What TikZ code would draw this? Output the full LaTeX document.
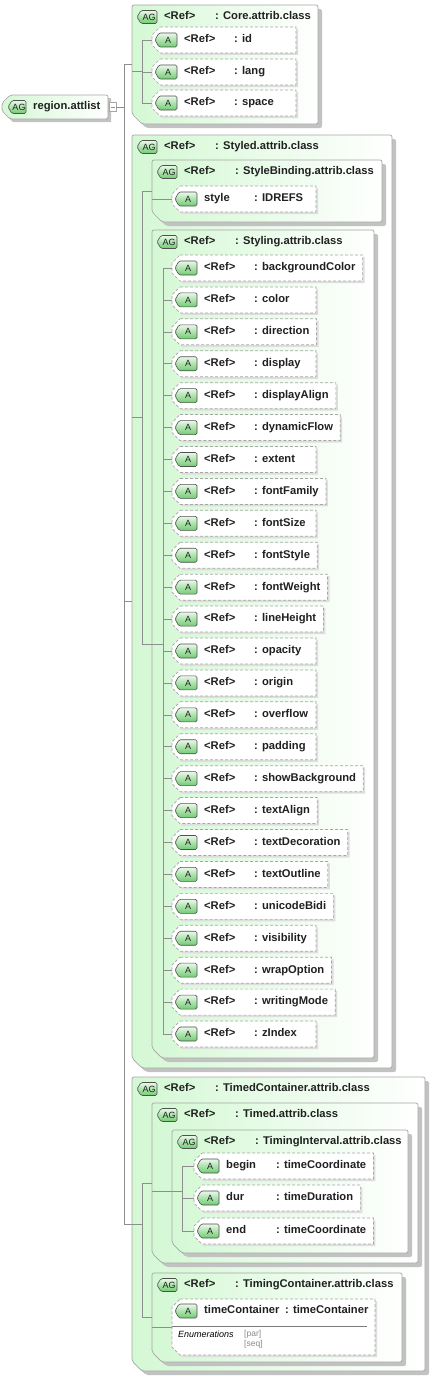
\documentclass[tikz,border=0pt]{standalone}
\usepackage{fontspec}
\setmainfont{Liberation Sans}
\usetikzlibrary{calc}
\pgfdeclarelayer{grp}
\pgfdeclarelayer{attr}
\pgfsetlayers{grp,attr,main}
\definecolor{boxline}{HTML}{A6A6A6}
\definecolor{shadowc}{HTML}{C2C2C2}
\definecolor{ashadow}{HTML}{DEDEDE}
\definecolor{grpgreen}{HTML}{D4F8D4}
\definecolor{badgeline}{HTML}{505050}
\definecolor{badgetop}{HTML}{EAF8EA}
\definecolor{badgebot}{HTML}{6FCC6F}
\definecolor{conncol}{HTML}{8E8E8E}
\definecolor{txtcol}{HTML}{202020}
\definecolor{enumgray}{HTML}{8A8A8A}
\definecolor{sepline}{HTML}{7A7A7A}
\newlength\attrw
\newlength\attrmin
\newcommand\ttlfont{\fontsize{11.2}{13}\selectfont\bfseries}
\tikzset{
 ttl/.style={font=\ttlfont, text=txtcol, inner sep=0pt, text height=8pt, text depth=2.3pt},
 badgeshape/.style={draw=badgeline, line width=0.6pt, top color=badgetop, bottom color=badgebot, rounded corners=1.5pt},
 badgetxt/.style={font=\fontsize{9}{10}\selectfont, text=txtcol, inner sep=0pt},
 grpshape/.style={draw=boxline, line width=0.7pt, left color=grpgreen, right color=white, rounded corners=2pt},
 grpshadow/.style={fill=shadowc, rounded corners=2pt},
 attrshape/.style={draw=boxline, line width=0.7pt, dash pattern=on 3pt off 2pt, fill=white},
 attrshadow/.style={fill=ashadow},
 conn/.style={draw=conncol, line width=0.6pt},
}
% #1 name, #2 x0, #3 yc, #4 w, #5 h, #6 text
\newcommand\badge[6]{%
 \path[badgeshape] (#2+4,#3+#5/2) -- (#2+#4,#3+#5/2) -- (#2+#4,#3-#5/2) -- (#2+4,#3-#5/2) -- (#2,#3) -- cycle;
 \node[badgetxt] (#1) at (#2+#4/2+2,#3) {#6};}
% #1 name, #2 L, #3 T, #4 R, #5 B (pixels downward), #6 title
\newcommand\grpbox[6]{%
 \begin{pgfonlayer}{grp}
 \path[grpshadow] (#2+4,-#3-4) -- (#4+4,-#3-4) -- (#4+4,-#5-4) -- (#2+14,-#5-4) -- (#2+4,-#5+6) -- cycle;
 \path[grpshape] (#2,-#3) -- (#4,-#3) -- (#4,-#5) -- (#2+10,-#5) -- (#2,-#5+10) -- cycle;
 \end{pgfonlayer}
 \node[inner sep=0pt, minimum width={#4-#2}, minimum height={#5-#3}, anchor=north west] (#1) at (#2,-#3) {};
 \badge{#1b}{#2+5}{-#3-12}{20}{13}{AG}
 \node[ttl, anchor=west] (#1r) at (#2+32,-#3-12) {<Ref>};
 \node[ttl, anchor=west] (#1t) at (#2+83,-#3-12) {: #6};}
% #1 name, #2 L, #3 yc (pixels), #4 first, #5 second, #6 colon offset
\newcommand\attrib[6]{%
 \badge{#1b}{#2+3}{-#3}{22}{14}{A}
 \node[ttl, anchor=west] (#1f) at (#2+32,-#3) {#4};
 \node[ttl, anchor=west] (#1s) at (#2+#6,-#3) {#5};
 \pgfpointanchor{#1s}{east}\pgfgetlastxy{\ax}{\ay}%
 \attrw=\ax\relax
 \advance\attrw by 7pt\relax
 \pgfmathsetlength\attrmin{#2+144}%
 \ifdim\attrw<\attrmin \attrw=\attrmin\fi
 \pgfmathsetmacro\rx{\attrw}%
 \begin{pgfonlayer}{attr}
 \path[attrshadow] (#2+10,-#3+11) -- (\rx+2,-#3+11) -- (\rx+2,-#3-15) -- (#2+10,-#3-15) -- (#2+2,-#3-7) -- (#2+2,-#3+3) -- cycle;
 \path[attrshape] (#2+8,-#3+13) -- (\rx,-#3+13) -- (\rx,-#3-13) -- (#2+8,-#3-13) -- (#2,-#3-5) -- (#2,-#3+5) -- cycle;
 \end{pgfonlayer}
 \node[inner sep=0pt, minimum width={\rx-#2}, minimum height=26, anchor=west] (#1) at (#2,-#3) {};}
\begin{document}
\begin{tikzpicture}[x=1pt,y=1pt]
\useasboundingbox (0,0) rectangle (436,-1381);
% root node
\path[fill=shadowc] (13,-98) -- (111,-98) -- (111,-122) -- (13,-122) -- (5,-114) -- (5,-106) -- cycle;
\path[grpshape] (10,-95) -- (108,-95) -- (108,-119) -- (10,-119) -- (2,-111) -- (2,-103) -- cycle;
\node[inner sep=0pt, minimum width=106, minimum height=24, anchor=west] (root) at (2,-107) {};
\badge{rootb}{8}{-107}{18}{13}{AG}
\node[ttl, anchor=west] (rootl) at (33,-107) {region.attlist};
\node[draw=boxline, fill=white, minimum width=7, minimum height=9, inner sep=0pt] (minus) at (112.5,-107) {};
\draw[conn] ([xshift=-2]minus.center) -- ([xshift=2]minus.center);

% Core
\grpbox{core}{132}{5}{318}{124}{Core.attrib.class}
\attrib{cid}{152}{40}{<Ref>}{: id}{82}
\attrib{clang}{152}{72}{<Ref>}{: lang}{82}
\attrib{cspace}{152}{103}{<Ref>}{: space}{82}

% Styled
\grpbox{styled}{132}{135}{392}{1068}{Styled.attrib.class}
\grpbox{sbind}{152}{160}{382}{222}{StyleBinding.attrib.class}
\attrib{style}{172}{199}{style}{: IDREFS}{82}
\grpbox{styling}{152}{230}{374}{1058}{Styling.attrib.class}
\foreach \n [count=\i from 0] in {backgroundColor,color,direction,display,displayAlign,dynamicFlow,extent,fontFamily,fontSize,fontStyle,fontWeight,lineHeight,opacity,origin,overflow,padding,showBackground,textAlign,textDecoration,textOutline,unicodeBidi,visibility,wrapOption,writingMode,zIndex}{
  \pgfmathsetmacro\yy{268+31.917*\i}
  \attrib{s\i}{172}{\yy}{<Ref>}{: \n}{82}
}

% TimedContainer
\grpbox{timedc}{132}{1077}{425}{1371}{TimedContainer.attrib.class}
\grpbox{timed}{152}{1103}{418}{1263}{Timed.attrib.class}
\grpbox{timingi}{172}{1130}{408}{1253}{TimingInterval.attrib.class}
\attrib{tbegin}{194}{1166}{begin}{: timeCoordinate}{82}
\attrib{tdur}{194}{1198}{dur}{: timeDuration}{82}
\attrib{tend}{194}{1231}{end}{: timeCoordinate}{82}
\grpbox{timingc}{152}{1273}{402}{1362}{TimingContainer.attrib.class}
% timeContainer attribute with enumerations
\begin{pgfonlayer}{attr}
\path[attrshadow] (182,-1301) -- (377,-1301) -- (377,-1357) -- (182,-1357) -- (174,-1349) -- (174,-1309) -- cycle;
\path[attrshape] (180,-1299) -- (375,-1299) -- (375,-1355) -- (180,-1355) -- (172,-1347) -- (172,-1307) -- cycle;
\end{pgfonlayer}
\node[inner sep=0pt, minimum width=203, minimum height=56, anchor=north west] (tcont) at (172,-1299) {};
\badge{tcontb}{175}{-1311}{22}{14}{A}
\node[ttl, anchor=west] (tcontf) at (204,-1311) {timeContainer};
\node[ttl, anchor=west] (tconts) at (285,-1311) {: timeContainer};
\draw[draw=sepline, line width=0.6pt] (172,-1326) -- (367,-1326);
\node[font=\fontsize{9}{10}\selectfont\itshape, text=black, inner sep=0pt, anchor=west] (enum) at (178,-1334) {Enumerations};
\node[font=\fontsize{8.5}{10}\selectfont, text=enumgray, inner sep=0pt, anchor=west] (epar) at (244,-1334) {[par]};
\node[font=\fontsize{8.5}{10}\selectfont, text=enumgray, inner sep=0pt, anchor=west] (eseq) at (244,-1344) {[seq]};

% connectors
\coordinate (rtA) at (124,-64.5);
\coordinate (rtB) at (124,-1224);
\draw[conn] (minus.east) -- (minus.east -| rtA);
\draw[conn] (rtA) -- (rtB);
% core
\coordinate (ctA) at (142,-40);
\coordinate (ctB) at (142,-103);
\coordinate (cin) at (132,-71.5);
\draw[conn] (core.west -| rtA) -- (core.west);
\draw[conn] (cin) -- (cin -| ctA);
\draw[conn] (ctA) -- (ctB);
\foreach \c in {cid,clang,cspace}{\draw[conn] (\c.west -| ctA) -- (\c.west);}
% styled
\coordinate (sdA) at (142,-191);
\coordinate (sdB) at (142,-644);
\coordinate (sdin) at (132,-417.5);
\coordinate (stA) at (163,-268);
\coordinate (stB) at (163,-1034);
\draw[conn] (styled.west -| rtA) -- (styled.west);
\draw[conn] (sdin) -- (sdin -| sdA);
\draw[conn] (sdA) -- (sdB);
\draw[conn] (sbind.west -| sdA) -- (sbind.west);
\draw[conn] (style.west -| sbind.west) -- (style.west);
\draw[conn] (styling.west -| sdA) -- (styling.west -| stA);
\draw[conn] (stA) -- (stB);
\foreach \i in {0,...,24}{\draw[conn] (s\i.west -| stA) -- (s\i.west);}
% timed container
\coordinate (tcA) at (142,-1183);
\coordinate (tcB) at (142,-1317.5);
\coordinate (tiA) at (182,-1166);
\coordinate (tiB) at (182,-1231);
\draw[conn] (timedc.west -| rtA) -- (timedc.west -| tcA);
\draw[conn] (tcA) -- (tcB);
\draw[conn] (timed.west -| tcA) -- (timed.west);
\draw[conn] (timingc.west -| tcA) -- (timingc.west);
\draw[conn] (timingi.west -| timed.west) -- (timingi.west -| tiA);
\draw[conn] (tiA) -- (tiB);
\foreach \c in {tbegin,tdur,tend}{\draw[conn] (\c.west -| tiA) -- (\c.west);}
\draw[conn] (tcont.west -| timingc.west) -- (tcont.west);
\end{tikzpicture}
\end{document}
